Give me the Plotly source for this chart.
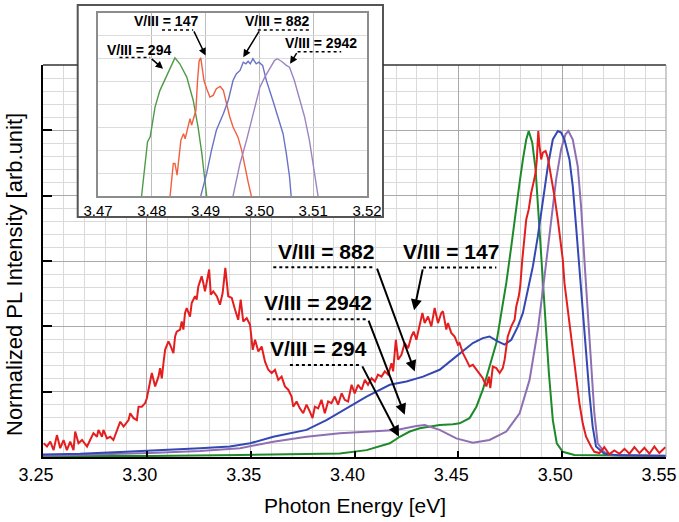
import plotly.graph_objects as go

# ---------------- main spectra (photon energy eV, normalized intensity) ----------------
e_147 = [3.2503,3.2519,3.2535,3.2551,3.2567,3.2583,3.2599,3.2615,3.2631,3.2647,3.2655,3.2671,3.2688,3.2712,
         3.2727,3.2743,3.2760,3.2767,3.2784,3.2791,3.2808,3.2824,3.2839,3.2856,3.2872,3.2888,3.2912,3.2920,
         3.2936,3.2952,3.2960,3.2976,3.2992,3.3000,3.3016,3.3024,3.3040,3.3056,3.3064,3.3072,3.3080,3.3088,
         3.3104,3.3112,3.3128,3.3136,3.3144,3.3160,3.3168,3.3176,3.3184,3.3192,3.3208,3.3216,3.3232,3.3240,
         3.3248,3.3264,3.3272,3.3280,3.3288,3.3300,3.3308,3.3320,3.3337,3.3352,3.3365,3.3378,3.3392,3.3409,
         3.3425,3.3440,3.3452,3.3464,3.3481,3.3497,3.3510,3.3521,3.3537,3.3553,3.3569,3.3585,3.3601,3.3617,
         3.3633,3.3649,3.3665,3.3681,3.3697,3.3705,3.3721,3.3737,3.3753,3.3769,3.3785,3.3798,3.3809,3.3825,
         3.3841,3.3857,3.3873,3.3889,3.3905,3.3921,3.3938,3.3953,3.3969,3.3986,3.4001,3.4017,3.4034,3.4050,
         3.4065,3.4082,3.4098,3.4113,3.4130,3.4146,3.4162,3.4178,3.4186,3.4199,3.4210,3.4226,3.4242,3.4258,
         3.4274,3.4285,3.4298,3.4314,3.4327,3.4338,3.4354,3.4370,3.4386,3.4402,3.4418,3.4426,3.4442,3.4450,
         3.4466,3.4482,3.4498,3.4506,3.4522,3.4538,3.4554,3.4570,3.4587,3.4602,3.4618,3.4635,3.4647,3.4654,
         3.4666,3.4683,3.4699,3.4714,3.4723,3.4738,3.4755,3.4771,3.4779,3.4791,3.4798,3.4808,3.4819,3.4827,
         3.4839,3.4851,3.4862,3.4872,3.4878,3.4885,3.4891,3.4899,3.4907,3.4920,3.4931,3.4947,3.4963,3.4979,
         3.4990,3.5003,3.5011,3.5019,3.5035,3.5051,3.5067,3.5083,3.5099,3.5115,3.5139,3.5155,3.5179,3.5203,
         3.5227,3.5251,3.5276,3.5300,3.5324,3.5348,3.5372,3.5396,3.5420,3.5444,3.5468,3.5497]
i_147 = [0.042,0.032,0.047,0.021,0.067,0.027,0.052,0.021,0.047,0.021,0.078,0.042,0.052,0.032,
         0.052,0.073,0.062,0.083,0.062,0.083,0.057,0.062,0.052,0.083,0.108,0.093,0.113,0.134,
         0.119,0.113,0.154,0.154,0.165,0.180,0.226,0.257,0.216,0.246,0.272,0.241,0.287,0.328,
         0.354,0.344,0.318,0.369,0.384,0.390,0.415,0.390,0.441,0.456,0.430,0.471,0.492,0.482,
         0.522,0.553,0.533,0.507,0.533,0.574,0.497,0.507,0.492,0.466,0.502,0.579,0.492,0.487,
         0.451,0.420,0.482,0.415,0.425,0.405,0.328,0.359,0.323,0.338,0.292,0.267,0.257,0.267,
         0.236,0.246,0.216,0.206,0.185,0.154,0.170,0.149,0.134,0.160,0.139,0.119,0.154,0.149,
         0.175,0.134,0.170,0.165,0.185,0.160,0.195,0.175,0.170,0.221,0.195,0.221,0.206,0.236,
         0.221,0.241,0.231,0.252,0.246,0.262,0.252,0.287,0.262,0.359,0.298,0.313,0.349,0.333,
         0.369,0.384,0.359,0.400,0.441,0.410,0.430,0.400,0.456,0.410,0.441,0.446,0.390,0.410,
         0.380,0.369,0.344,0.349,0.318,0.298,0.277,0.282,0.267,0.257,0.241,0.216,0.246,0.211,
         0.277,0.272,0.257,0.272,0.298,0.369,0.400,0.420,0.461,0.492,0.522,0.604,0.676,0.727,
         0.758,0.809,0.840,0.870,0.911,0.998,0.952,0.911,0.932,0.937,0.916,0.860,0.798,0.727,
         0.676,0.604,0.533,0.492,0.420,0.338,0.246,0.165,0.103,0.062,0.032,0.016,0.012,0.030,
         0.008,0.020,0.010,0.025,0.010,0.030,0.012,0.028,0.010,0.032,0.012,0.030]

e_882 = [3.2500,3.2679,3.2872,3.3064,3.3256,3.3400,3.3449,3.3497,3.3609,3.3769,3.3865,3.3962,3.4058,
         3.4170,3.4250,3.4330,3.4410,3.4490,3.4570,3.4618,3.4650,3.4690,3.4723,3.4755,3.4787,3.4811,
         3.4835,3.4859,3.4883,3.4907,3.4931,3.4955,3.4979,3.4995,3.5011,3.5035,3.5051,3.5067,3.5083,
         3.5099,3.5115,3.5131,3.5147,3.5163,3.5203,3.5276,3.5500]
i_882 = [0.008,0.010,0.015,0.020,0.027,0.032,0.037,0.042,0.062,0.083,0.113,0.149,0.185,
         0.221,0.231,0.246,0.267,0.308,0.349,0.364,0.369,0.354,0.344,0.359,0.400,0.441,
         0.512,0.584,0.676,0.788,0.890,0.972,0.998,0.993,0.972,0.911,0.829,0.706,0.574,
         0.441,0.318,0.195,0.093,0.032,0.010,0.005,0.004]

e_2942 = [3.2500,3.2776,3.3016,3.3256,3.3449,3.3609,3.3769,3.3929,3.4089,3.4202,3.4298,3.4338,3.4410,
          3.4490,3.4570,3.4650,3.4731,3.4795,3.4843,3.4883,3.4915,3.4947,3.4971,3.4995,3.5016,3.5030,
          3.5051,3.5075,3.5091,3.5107,3.5123,3.5139,3.5155,3.5171,3.5203,3.5241,3.5500]
i_2942 = [0.004,0.008,0.012,0.018,0.027,0.047,0.062,0.073,0.078,0.083,0.095,0.098,0.083,
          0.057,0.044,0.052,0.078,0.134,0.236,0.390,0.553,0.727,0.850,0.942,0.988,0.998,
          0.972,0.890,0.768,0.604,0.441,0.277,0.134,0.042,0.015,0.005,0.003]

e_294 = [3.2500,3.3016,3.3449,3.3737,3.3929,3.4058,3.4122,3.4170,3.4218,3.4266,3.4314,3.4362,3.4410,
         3.4474,3.4506,3.4554,3.4587,3.4618,3.4650,3.4683,3.4707,3.4731,3.4755,3.4779,3.4795,3.4811,
         3.4827,3.4839,3.4856,3.4872,3.4888,3.4904,3.4920,3.4936,3.4955,3.4974,3.5003,3.5059,3.5500]
i_294 = [0.003,0.003,0.006,0.008,0.011,0.021,0.032,0.042,0.062,0.078,0.088,0.093,0.098,
         0.100,0.103,0.119,0.154,0.206,0.277,0.349,0.441,0.533,0.645,0.768,0.840,0.911,
         0.972,0.998,0.962,0.880,0.727,0.553,0.400,0.257,0.113,0.042,0.016,0.006,0.003]

# ---------------- inset spectra (zoom of the peak region, grid units) ----------------
ie_294 = [3.4781,3.4792,3.4797,3.4806,3.4815,3.4828,3.4837,3.4843,3.4852,3.4865,3.4877,3.4886,3.4893,3.4899,3.4902]
ii_294 = [0.0,2.36,2.58,3.88,4.6,5.26,5.77,6.03,5.77,5.19,4.17,3.01,1.86,0.7,0.0]

ie_147 = [3.4834,3.4840,3.4843,3.4847,3.4854,3.4859,3.4862,3.4868,3.4871,3.4874,3.4878,3.4882,3.4885,3.4888,
          3.4891,3.4894,3.4897,3.4902,3.4908,3.4914,3.4920,3.4927,3.4933,3.4939,3.4945,3.4951,3.4960,3.4967,
          3.4973,3.4979,3.4985]
ii_147 = [0.0,1.42,1.42,0.91,2.43,2.72,2.5,3.16,3.38,3.09,3.38,3.74,5.04,5.9,
          6.03,5.62,5.04,4.68,4.32,4.39,4.68,4.78,4.61,4.03,3.45,3.01,2.58,2.0,
          1.27,0.62,0.0]

ie_882 = [3.4891,3.4902,3.4911,3.4920,3.4933,3.4942,3.4951,3.4957,3.4964,3.4970,3.4975,3.4979,3.4983,3.4988,
          3.4994,3.4999,3.5006,3.5013,3.5025,3.5034,3.5044,3.5050,3.5056,3.5059]
ii_882 = [0.0,0.99,2.0,2.87,3.59,4.17,5.04,5.33,5.48,5.84,5.77,5.88,5.77,5.99,
          5.77,5.84,5.7,5.04,4.17,3.45,2.72,1.86,0.84,0.0]

ie_2942 = [3.4951,3.4964,3.4976,3.4988,3.5001,3.5010,3.5019,3.5028,3.5033,3.5041,3.5050,3.5056,3.5065,3.5075,
           3.5084,3.5093,3.5099,3.5106,3.5109]
ii_2942 = [0.0,1.42,2.43,3.59,4.75,5.19,5.55,5.91,5.99,5.88,5.7,5.62,5.04,4.17,
           3.45,2.43,1.57,0.41,0.0]

x_ticks = [3.25, 3.30, 3.35, 3.40, 3.45, 3.50, 3.55]
inset_ticks = [3.47, 3.48, 3.49, 3.50, 3.51, 3.52]
labels = ["V/III = 147", "V/III = 294", "V/III = 882", "V/III = 2942"]

RED, GREEN, BLUE, PURPLE = "#e41e1e", "#1d8a2a", "#3448b4", "#8e6fb4"
iRED, iGREEN, iBLUE, iPURPLE = "#f06040", "#4f9a48", "#6a72c8", "#9c84c2"

FONT = "Liberation Sans, Arial, Helvetica, sans-serif"

fig = go.Figure()
main = [(e_294, i_294, GREEN), (e_2942, i_2942, PURPLE), (e_882, i_882, BLUE), (e_147, i_147, RED)]
for ex, iy, c in main:
    fig.add_trace(go.Scatter(x=ex, y=iy, mode="lines", line=dict(color=c, width=2),
                             xaxis="x", yaxis="y", showlegend=False, hoverinfo="skip"))
inset = [(ie_294, ii_294, iGREEN), (ie_147, ii_147, iRED), (ie_882, ii_882, iBLUE), (ie_2942, ii_2942, iPURPLE)]
for ex, iy, c in inset:
    fig.add_trace(go.Scatter(x=ex, y=iy, mode="lines", line=dict(color=c, width=1.4),
                             xaxis="x2", yaxis="y2", showlegend=False, hoverinfo="skip"))

# geometry (pixels -> paper)
W, H = 679, 522
ML, MR, MT, MB = 43, 13, 5, 65
PW, PH = W - ML - MR, H - MT - MB
def px(x): return (x - ML) / PW
def py(y): return (H - MB - y) / PH
main_top = py(65)

fig.update_layout(
    width=W, height=H, margin=dict(l=ML, r=MR, t=MT, b=MB, autoexpand=False),
    paper_bgcolor="white", plot_bgcolor="white",
    font=dict(family=FONT, color="black"),
    xaxis=dict(domain=[0, 1], range=[3.25, 3.55], anchor="y", tickvals=x_ticks, automargin=False,
               ticktext=[f"{v:.2f}" for v in x_ticks], ticks="inside", ticklen=6, tickwidth=1.5,
               tickcolor="black", showline=True, linecolor="black", linewidth=2,
               showgrid=True, gridcolor="#a9a9a9", gridwidth=1, zeroline=False,
               minor=dict(dtick=0.01, tick0=3.25, showgrid=True, gridcolor="#dadada", gridwidth=1),
               tickfont=dict(size=18), ticklabelshift=-7),
    yaxis=dict(domain=[0, main_top], range=[0, 1.2], anchor="x", tick0=0, dtick=0.2, automargin=False,
               ticks="inside", ticklen=9, tickwidth=1.5, tickcolor="black", showticklabels=False,
               showline=True, linecolor="black", linewidth=2, showgrid=True, gridcolor="#a9a9a9",
               zeroline=False,
               minor=dict(dtick=0.04, tick0=0, showgrid=True, gridcolor="#dadada", gridwidth=1)),
    xaxis2=dict(domain=[px(98), px(367)], range=[3.47, 3.52], anchor="y2", tickvals=inset_ticks,
                automargin=False,
                ticktext=[f"{v:.2f}" for v in inset_ticks], ticks="", showline=True, mirror=True,
                linecolor="#8c8c8c", linewidth=1.5, showgrid=True, gridcolor="#bdbdbd",
                zeroline=False, tickfont=dict(size=15)),
    yaxis2=dict(domain=[py(196), py(12.7)], range=[0, 8], anchor="x2", dtick=1, tick0=0,
                automargin=False,
                showticklabels=False, ticks="", showline=True, mirror=True, linecolor="#8c8c8c",
                linewidth=1.5, showgrid=True, gridcolor="#dcdcdc", zeroline=False),
)

shapes = []
# white backing of inset panel (above main grid, below traces)
shapes.append(dict(type="rect", xref="x", yref="y", x0=3.25 + (77.7 - ML) / 2080, x1=3.25 + (383 - ML) / 2080,
                   y0=(457 - 217) / 326, y1=1.3, fillcolor="white", line=dict(width=0), layer="between"))
# inset frame
shapes.append(dict(type="rect", xref="paper", yref="paper", x0=px(77.7), x1=px(383), y0=py(217), y1=py(5),
                   line=dict(color="#555555", width=2), fillcolor="rgba(0,0,0,0)", layer="above"))
# main top border (interrupted by inset) and right border
shapes.append(dict(type="line", xref="paper", yref="paper", x0=0, x1=px(77.7), y0=main_top, y1=main_top,
                   line=dict(color="#333333", width=1.5)))
shapes.append(dict(type="line", xref="paper", yref="paper", x0=px(383), x1=1, y0=main_top, y1=main_top,
                   line=dict(color="#333333", width=1.5)))
shapes.append(dict(type="line", xref="paper", yref="paper", x0=1, x1=1, y0=0, y1=main_top,
                   line=dict(color="#9a9a9a", width=1)))

# dotted underlines, main
for x0, x1, yv in [(3.3609, 3.4098, 0.581), (3.4330, 3.4683, 0.580), (3.3577, 3.4065, 0.422), (3.3689, 3.4034, 0.282)]:
    shapes.append(dict(type="line", xref="x", yref="y", x0=x0, x1=x1, y0=yv, y1=yv,
                       line=dict(color="black", width=2, dash="dot"), layer="above"))
# dotted underlines, inset
for x0, x1, yv in [(3.4740, 3.4797, 6.04), (3.4819, 3.4877, 7.25), (3.4997, 3.5093, 7.25), (3.5071, 3.5152, 6.30)]:
    shapes.append(dict(type="line", xref="x2", yref="y2", x0=x0, x1=x1, y0=yv, y1=yv,
                       line=dict(color="black", width=1.5, dash="dot"), layer="above"))
fig.update_layout(shapes=shapes)

ann = []
# axis titles
ann.append(dict(xref="paper", yref="paper", x=0.5, y=py(505), text="Photon Energy [eV]", showarrow=False,
                font=dict(size=21), xanchor="center", yanchor="middle"))
ann.append(dict(xref="paper", yref="paper", x=px(15), y=py(275), text="Normalized PL Intensity [arb.unit]",
                showarrow=False, textangle=-90, font=dict(size=22), xanchor="center", yanchor="middle"))
# main labels
for txt, xv, yv in [(labels[2], 3.3862, 0.630), (labels[0], 3.4466, 0.630), (labels[3], 3.3825, 0.473), (labels[1], 3.3828, 0.333)]:
    ann.append(dict(xref="x", yref="y", x=xv, y=yv, text=f"<b>{txt}</b>", showarrow=False,
                    font=dict(size=21), xanchor="center", yanchor="middle"))
# main arrows (tail -> head)
for tx, ty, hx, hy in [(3.4106, 0.581, 3.4290, 0.262), (3.4330, 0.579, 3.4287, 0.449),
                       (3.4065, 0.422, 3.4242, 0.129), (3.4034, 0.282, 3.4214, 0.062)]:
    ann.append(dict(xref="x", yref="y", axref="x", ayref="y", x=hx, y=hy, ax=tx, ay=ty, text="",
                    showarrow=True, arrowhead=2, arrowsize=1.1, arrowwidth=2, arrowcolor="black"))
# inset labels
for txt, xv, yv in [(labels[1], 3.4776, 6.39), (labels[0], 3.4826, 7.65), (labels[2], 3.5033, 7.65), (labels[3], 3.5115, 6.67)]:
    ann.append(dict(xref="x2", yref="y2", x=xv, y=yv, text=f"<b>{txt}</b>", showarrow=False,
                    font=dict(size=14), xanchor="center", yanchor="middle"))
for tx, ty, hx, hy in [(3.4797, 6.04, 3.4821, 5.55), (3.4877, 7.25, 3.4900, 6.13),
                       (3.5001, 7.25, 3.4970, 6.06), (3.5071, 6.30, 3.5057, 5.77)]:
    ann.append(dict(xref="x2", yref="y2", axref="x2", ayref="y2", x=hx, y=hy, ax=tx, ay=ty, text="",
                    showarrow=True, arrowhead=2, arrowsize=1, arrowwidth=1.5, arrowcolor="black"))
fig.update_layout(annotations=ann)

fig.write_html("out.html", config={"displayModeBar": False},
               post_script="document.body.style.margin='0';document.body.style.padding='0';")
